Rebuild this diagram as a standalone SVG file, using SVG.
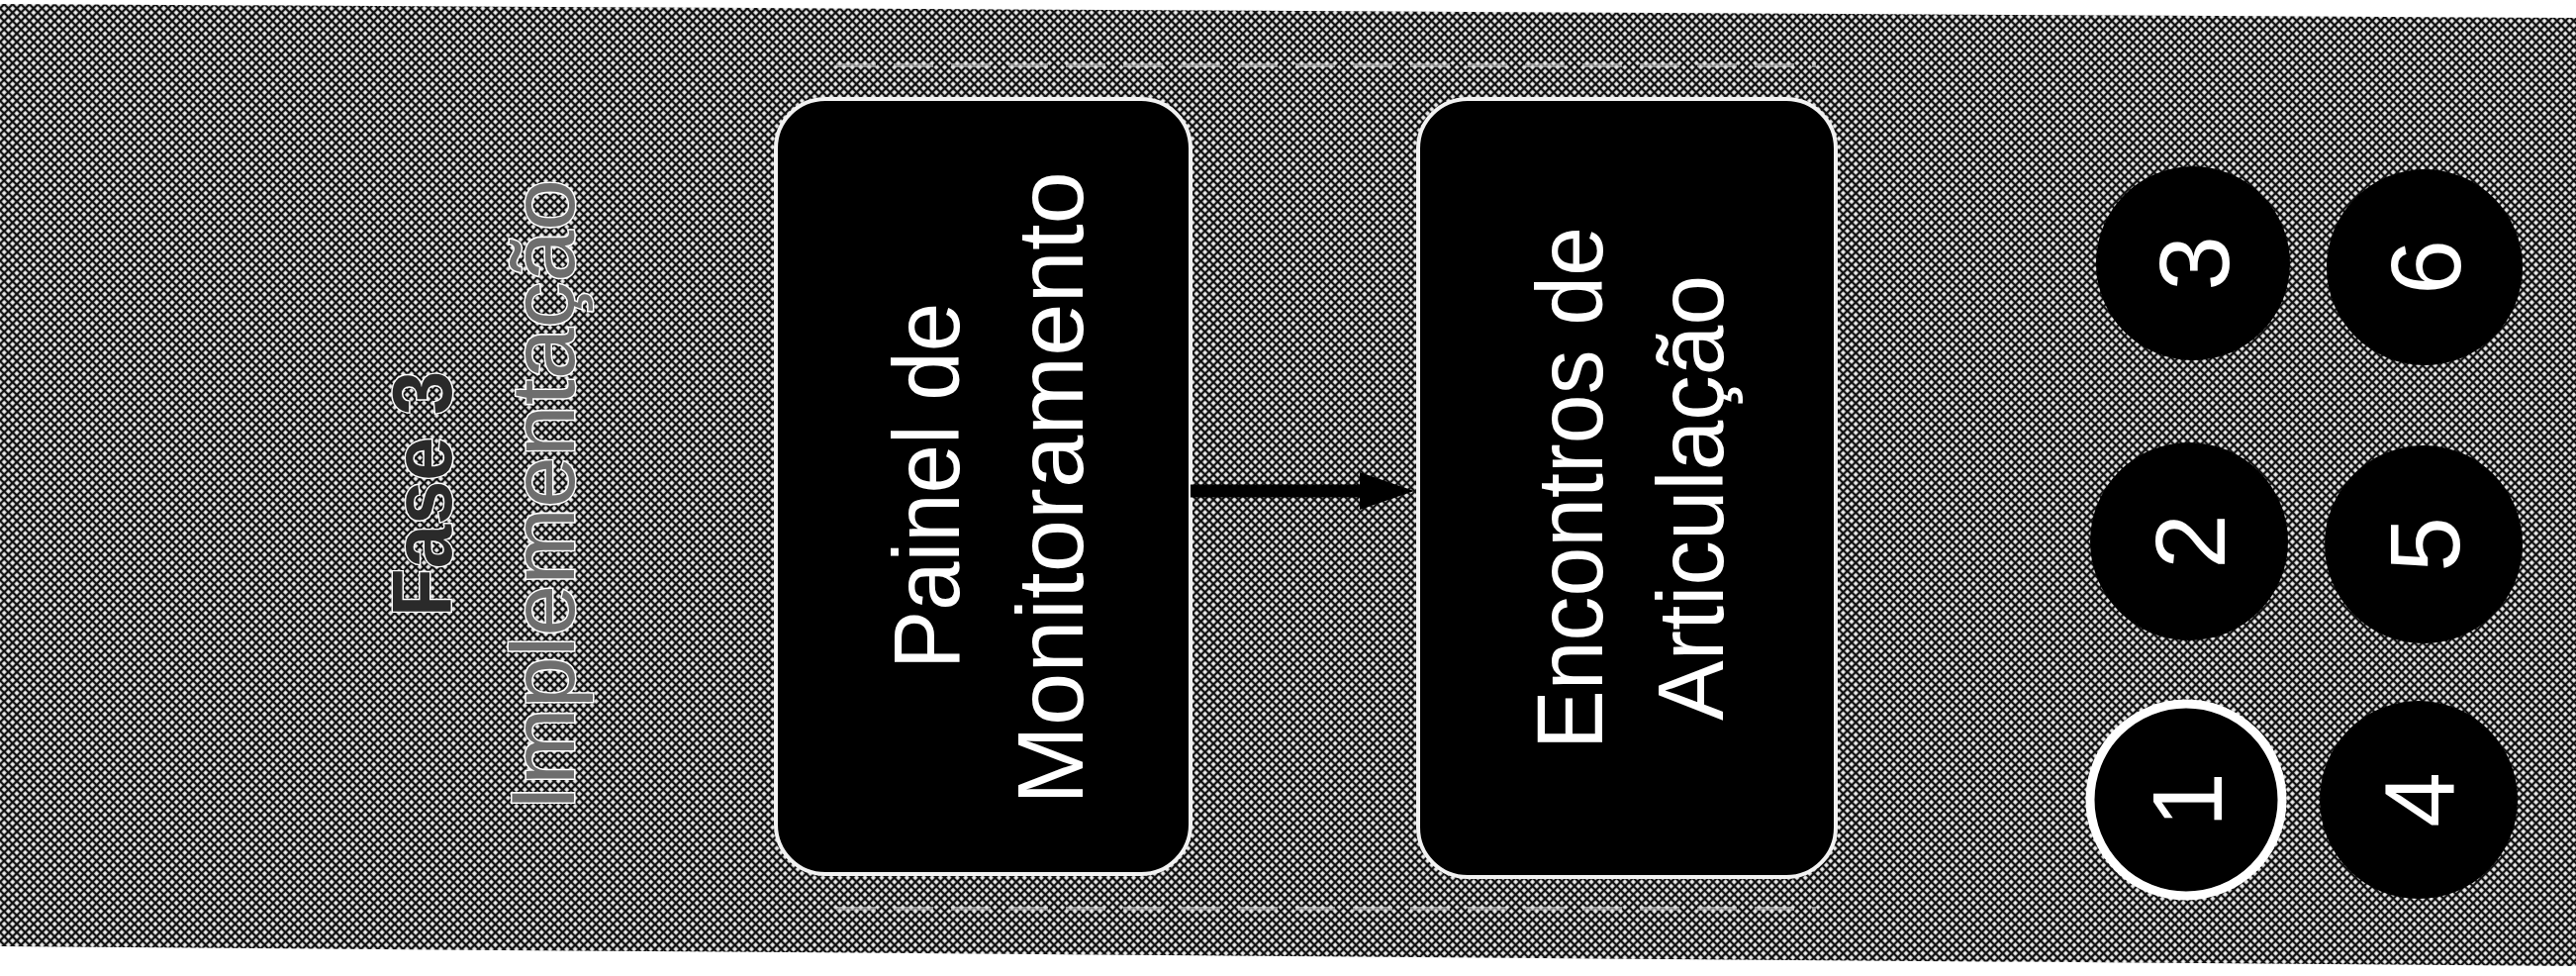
<svg xmlns="http://www.w3.org/2000/svg" width="2603" height="986" viewBox="0 0 2603 986">
  <style>
    .box { fill: #000; stroke: #f2f2f2; stroke-width: 4; }
    .boxtxt { fill: #fff; font-family: "Liberation Sans", Arial, sans-serif; font-size: 94px; text-anchor: middle; }
    .circ { fill: #000; }
    .num { fill: #fff; font-family: "Liberation Sans", Arial, sans-serif; font-size: 100px; text-anchor: middle; }
    .dash { stroke: #e6e6e6; stroke-width: 4; stroke-dasharray: 40 18; fill: none; opacity: 0.55; }
    .side { font-family: "Liberation Sans", Arial, sans-serif; text-anchor: middle; stroke: #ffffff; stroke-width: 3; paint-order: stroke; }
  </style>
  <defs>
    <pattern id="halftone" width="6" height="6" patternUnits="userSpaceOnUse" patternTransform="rotate(45)">
      <rect width="6" height="6" fill="#111111"/>
      <rect x="1.2" y="1.2" width="3.6" height="3.6" fill="#f4f4f4"/>
    </pattern>
  </defs>

  <rect width="2603" height="986" fill="#ffffff"/>
  <polygon points="0,4 2603,18 2603,976 0,956" fill="url(#halftone)"/>

  <g id="frame">
    <line class="dash" x1="845" y1="66" x2="1835" y2="66"/>
    <line class="dash" x1="845" y1="918" x2="1835" y2="918"/>
  </g>

  <g id="node-fase3">
    <text class="side" transform="translate(456,499) rotate(-90)" font-size="86" font-weight="bold" fill="#2a2a2a" textLength="248" lengthAdjust="spacingAndGlyphs">Fase 3</text>
    <text class="side" transform="translate(580,500) rotate(-90)" font-size="90" fill="#6e6e6e" textLength="638" lengthAdjust="spacingAndGlyphs">Implementação</text>
  </g>

  <g id="node-painel">
    <rect class="box" x="784" y="100" width="419" height="783" rx="50" ry="50"/>
    <text class="boxtxt" transform="translate(969,491) rotate(-90)" textLength="370" lengthAdjust="spacingAndGlyphs">Painel de</text>
    <text class="boxtxt" transform="translate(1094,493) rotate(-90)" textLength="640" lengthAdjust="spacingAndGlyphs">Monitoramento</text>
  </g>

  <g id="node-encontros">
    <rect class="box" x="1433" y="100" width="422" height="786" rx="50" ry="50"/>
    <text class="boxtxt" transform="translate(1619,493) rotate(-90)" textLength="528" lengthAdjust="spacingAndGlyphs">Encontros de</text>
    <text class="boxtxt" transform="translate(1741,503) rotate(-90)" textLength="450" lengthAdjust="spacingAndGlyphs">Articulação</text>
  </g>

  <g id="connectors">
    <line x1="1203" y1="496" x2="1380" y2="496" stroke="#000" stroke-width="13"/>
    <polygon points="1374,477 1429,496 1374,515" fill="#000"/>
  </g>

  <g id="node-1">
    <circle class="circ" cx="2209" cy="808" r="97" stroke="#ffffff" stroke-width="9"/>
    <text class="num" transform="translate(2245,808) rotate(-90)">1</text>
  </g>
  <g id="node-2">
    <circle class="circ" cx="2212" cy="547" r="100"/>
    <text class="num" transform="translate(2248,547) rotate(-90)">2</text>
  </g>
  <g id="node-3">
    <circle class="circ" cx="2216" cy="266" r="98"/>
    <text class="num" transform="translate(2252,266) rotate(-90)">3</text>
  </g>
  <g id="node-4">
    <circle class="circ" cx="2444" cy="808" r="100"/>
    <text class="num" transform="translate(2480,808) rotate(-90)">4</text>
  </g>
  <g id="node-5">
    <circle class="circ" cx="2449" cy="550" r="100"/>
    <text class="num" transform="translate(2485,550) rotate(-90)">5</text>
  </g>
  <g id="node-6">
    <circle class="circ" cx="2450" cy="270" r="99"/>
    <text class="num" transform="translate(2486,270) rotate(-90)">6</text>
  </g>
</svg>
